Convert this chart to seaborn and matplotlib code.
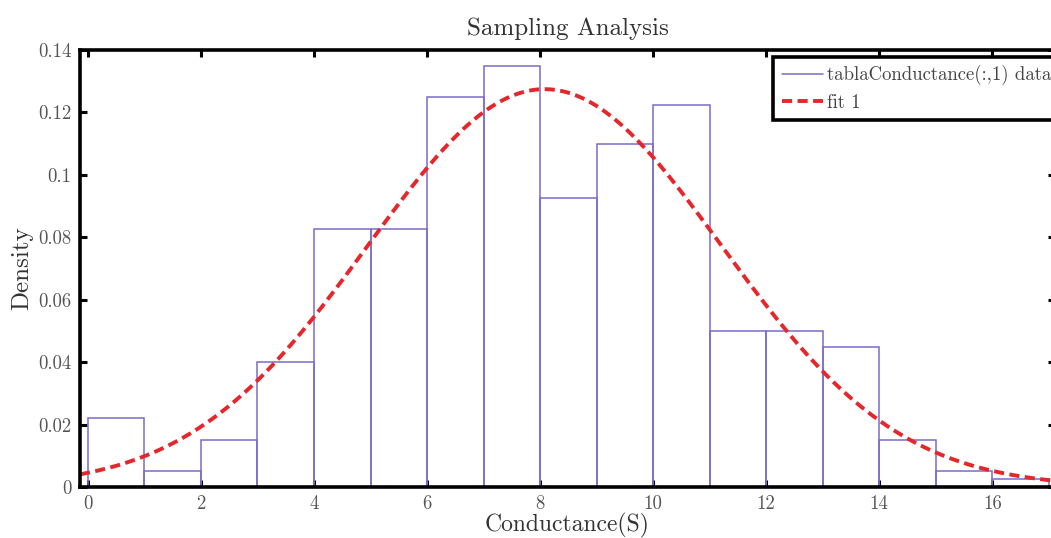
import numpy as np
import pandas as pd
import matplotlib
matplotlib.use("Agg")
import matplotlib.pyplot as plt
from matplotlib.lines import Line2D
import seaborn as sns

# ---- data ----
bin_edges = [0, 1, 2, 3, 4, 5, 6, 7, 8, 9, 10, 11, 12, 13, 14, 15, 16, 17]
bin_density = [0.0222, 0.0050, 0.0150, 0.0400, 0.0825, 0.0825, 0.1250, 0.1350,
               0.0925, 0.1100, 0.1225, 0.0500, 0.0500, 0.0450, 0.0150, 0.0050, 0.0025]
fit_mu = 8.08
fit_sigma = 3.13
x_ticks = [0, 2, 4, 6, 8, 10, 12, 14, 16]
y_ticks = [0, 0.02, 0.04, 0.06, 0.08, 0.1, 0.12, 0.14]
y_ticklabels = ["0", "0.02", "0.04", "0.06", "0.08", "0.1", "0.12", "0.14"]

sns.set_style("ticks")
plt.rcParams['font.family'] = ['cmr10', 'DejaVu Serif']
plt.rcParams['axes.formatter.use_mathtext'] = True

W, H = 1051, 538
fig = plt.figure(figsize=(W / 100, H / 100), dpi=100)
ax = fig.add_axes([80 / W, (H - 487) / H, 975 / W, 437 / H])

centers = [(a + b) / 2 for a, b in zip(bin_edges[:-1], bin_edges[1:])]
df = pd.DataFrame({"x": centers, "d": bin_density})
sns.histplot(data=df, x="x", weights="d", bins=bin_edges, stat="count",
             fill=False, color="#7b6cc9", linewidth=1.1, ax=ax)

xg = np.linspace(-0.14, 17.2, 400)
pdf = np.exp(-0.5 * ((xg - fit_mu) / fit_sigma) ** 2) / (fit_sigma * np.sqrt(2 * np.pi))
sns.lineplot(x=xg, y=pdf, color="#e5262b", linewidth=2.8, dashes=False, ax=ax)
ax.lines[-1].set_dashes((2.6, 1.4))

ax.set_xlim(-0.14, 17.11)
ax.set_ylim(0, 0.14)
ax.set_xticks(x_ticks)
ax.set_xticklabels([str(t) for t in x_ticks])
ax.set_yticks(y_ticks)
ax.set_yticklabels(y_ticklabels)
ax.tick_params(direction="in", length=5, width=2.2, colors="black",
               labelcolor="#555555", labelsize=13.5, top=True, right=True, pad=6)
for s in ax.spines.values():
    s.set_linewidth(2.6)
    s.set_color("black")

ax.set_xlabel("Conductance(S)", fontsize=17, color="#333333", labelpad=0)
ax.set_ylabel("Density", fontsize=18, color="#333333", labelpad=4)
ax.set_title("Sampling Analysis", fontsize=18, color="#333333", pad=11)

handles = [Line2D([], [], color="#7b6cc9", linewidth=1.1),
           Line2D([], [], color="#e5262b", linewidth=2.8, dashes=(2.6, 1.4))]
leg = ax.legend(handles, ["tablaConductance(:,1) data", "fit 1"],
                loc="upper left", bbox_to_anchor=(0.711, 0.985), fontsize=13.5,
                frameon=True, fancybox=False, framealpha=1, edgecolor="black",
                handlelength=2.2, handletextpad=0.2, borderpad=0.45,
                labelspacing=0.45, borderaxespad=0)
leg.get_frame().set_linewidth(2.6)
for t in leg.get_texts():
    t.set_color("#444444")

fig.savefig("out.png", dpi=100)
